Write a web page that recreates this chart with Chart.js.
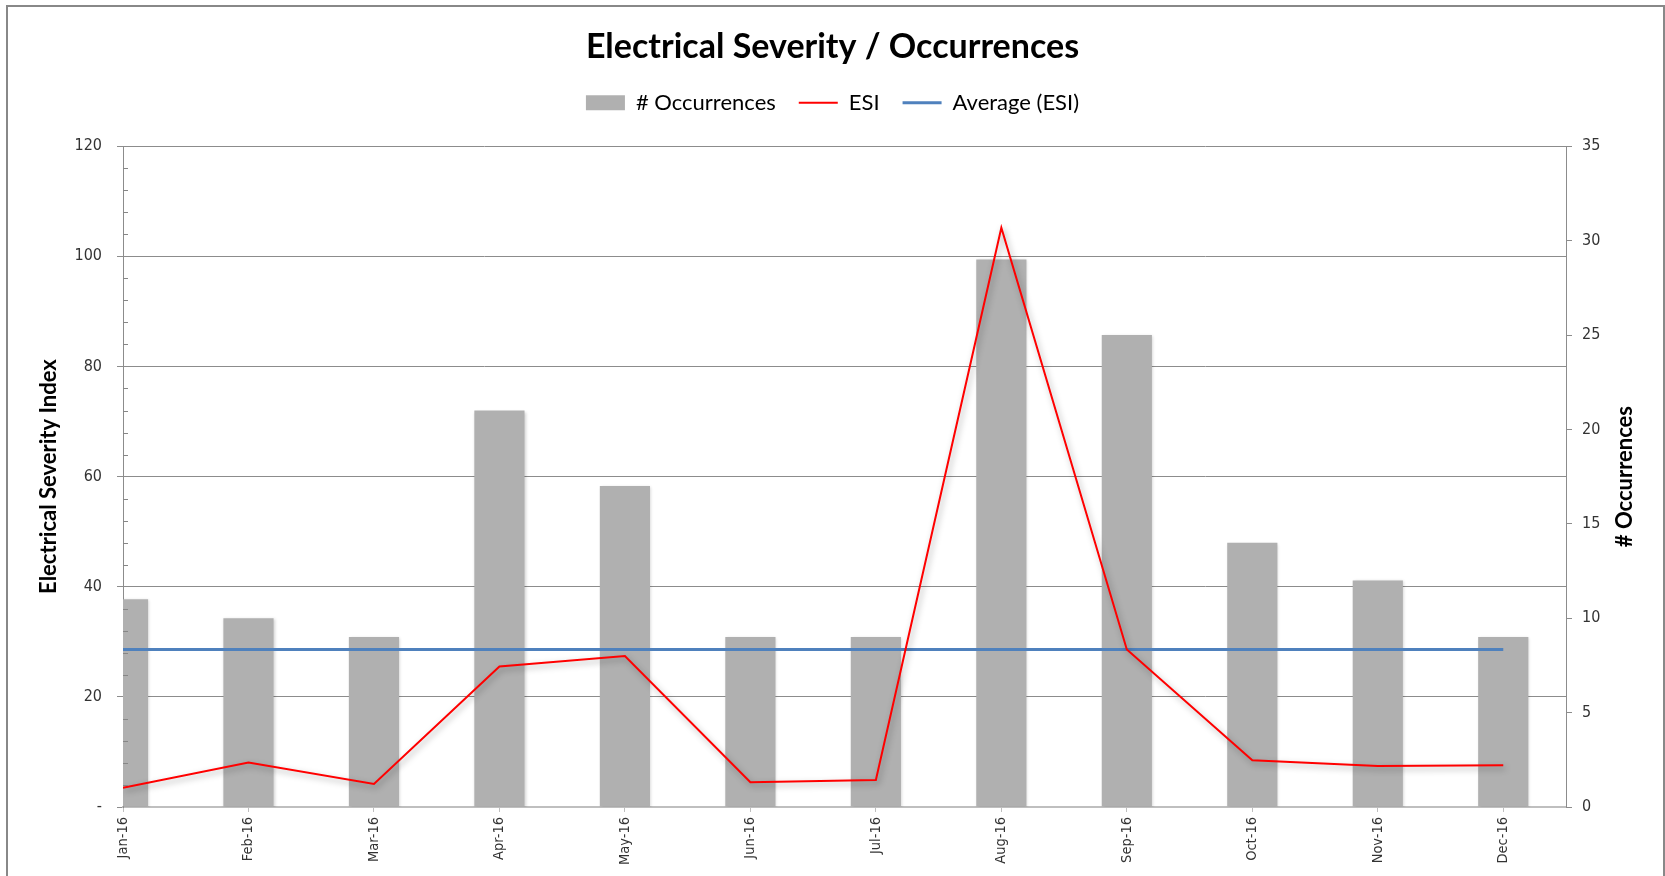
<!DOCTYPE html>
<html><head><meta charset="utf-8">
<script src="https://cdn.jsdelivr.net/npm/chart.js@4.4.0/dist/chart.umd.min.js"></script>
<style>
html,body{margin:0;padding:0;background:#fff;overflow:hidden;}
#wrap{position:relative;width:1665px;height:876px;}
#frame{position:absolute;left:6px;top:5px;width:1655px;height:900px;border:2px solid #888;pointer-events:none;}
</style></head><body>
<div id="wrap"><canvas id="c" width="1665" height="876"></canvas><div id="frame"></div></div>
<script>
const months = ['Jan-16','Feb-16','Mar-16','Apr-16','May-16','Jun-16','Jul-16','Aug-16','Sep-16','Oct-16','Nov-16','Dec-16'];
const occurrences = [11, 10, 9, 21, 17, 9, 9, 29, 25, 14, 12, 9];
const esi = [3.5, 8.1, 4.2, 25.5, 27.4, 4.5, 4.9, 105.2, 28.6, 8.5, 7.45, 7.6];
const averageEsi = [28.6, 28.6, 28.6, 28.6, 28.6, 28.6, 28.6, 28.6, 28.6, 28.6, 28.6, 28.6];
const esiTicks = [0, 20, 40, 60, 80, 100, 120];
const occTicks = [0, 5, 10, 15, 20, 25, 30, 35];

const toPoints = arr => arr.map((v, i) => ({x: i, y: v}));

const shadowPlugin = {
  id: 'shadows',
  beforeDatasetDraw(chart, args) {
    const ctx = chart.ctx;
    ctx.save();
    if (args.index === 1) {
      ctx.shadowColor = 'rgba(0,0,0,0.35)';
      ctx.shadowBlur = 6; ctx.shadowOffsetX = 2; ctx.shadowOffsetY = 3;
    } else if (args.index === 0) {
      ctx.shadowColor = 'rgba(0,0,0,0.18)';
      ctx.shadowBlur = 3; ctx.shadowOffsetX = 1; ctx.shadowOffsetY = 1;
    }
  },
  afterDatasetDraw(chart) { chart.ctx.restore(); }
};

const legendSpace = {
  id: 'legendSpace',
  afterInit(chart) {
    const lg = chart.legend;
    if (!lg) return;
    const orig = lg.fit;
    lg.fit = function () { orig.call(this); this.height += 22.4; };
  }
};

const extrasPlugin = {
  id: 'extras',
  afterDraw(chart) {
    const ctx = chart.ctx;
    const y = chart.scales.y;
    const area = chart.chartArea;
    ctx.save();
    ctx.strokeStyle = '#868686';
    ctx.lineWidth = 1;
    for (let v = 4; v < 120; v += 4) {
      if (v % 20 === 0) continue;
      const py = Math.round(y.getPixelForValue(v)) + 0.5;
      ctx.beginPath(); ctx.moveTo(area.left, py); ctx.lineTo(area.left + 5, py); ctx.stroke();
    }
    ctx.fillStyle = '#000';
    ctx.font = 'bold 22px Lato';
    ctx.textAlign = 'center';
    ctx.textBaseline = 'middle';
    ctx.translate(1625, (area.top + area.bottom) / 2);
    ctx.rotate(-Math.PI / 2);
    ctx.fillText('# Occurrences', 0, 0);
    ctx.restore();
  }
};

new Chart(document.getElementById('c'), {
  data: {
    datasets: [
      {type: 'bar', label: '# Occurrences', data: toPoints(occurrences), yAxisID: 'y1', xAxisID: 'x',
       backgroundColor: '#b0b0b0', borderWidth: 0, categoryPercentage: 1, barPercentage: 0.4, order: 3},
      {type: 'line', label: 'ESI', data: toPoints(esi), yAxisID: 'y', xAxisID: 'x',
       borderColor: '#ff0000', backgroundColor: '#ff0000', borderWidth: 2, pointRadius: 0, tension: 0, order: 1},
      {type: 'line', label: 'Average (ESI)', data: toPoints(averageEsi), yAxisID: 'y', xAxisID: 'x',
       borderColor: '#4f81bd', backgroundColor: '#4f81bd', borderWidth: 3, pointRadius: 0, tension: 0, order: 2}
    ]
  },
  options: {
    responsive: false,
    animation: false,
    layout: {padding: {top: 0, left: 0, right: 0, bottom: 0}},
    plugins: {
      title: {display: true, text: 'Electrical Severity / Occurrences', color: '#000',
        font: {family: 'Lato', size: 34, weight: 'bold'}, padding: {top: 27, bottom: 1}},
      legend: {
        display: true,
        labels: {
          color: '#000', font: {family: 'Lato', size: 22}, usePointStyle: true,
          pointStyleWidth: 39, boxHeight: 15, padding: 23,
          sort: (a, b) => a.datasetIndex - b.datasetIndex,
          generateLabels(chart) {
            const items = Chart.defaults.plugins.legend.labels.generateLabels(chart);
            items.forEach(it => {
              if (it.datasetIndex === 0) { it.pointStyle = 'rect'; it.lineWidth = 0; it.strokeStyle = 'rgba(0,0,0,0)'; }
              else { it.pointStyle = 'line'; it.lineWidth = it.datasetIndex === 2 ? 3 : 2; }
            });
            return items;
          }
        }
      },
      tooltip: {enabled: false}
    },
    scales: {
      x: {
        type: 'linear', position: 'bottom', min: 0, max: 11.5, offset: false,
        afterBuildTicks: s => { s.ticks = months.map((m, i) => ({value: i})); },
        afterFit: s => { s.height = 69; },
        ticks: {autoSkip: false, minRotation: 90, maxRotation: 90, padding: 5, color: '#333',
          font: {family: 'DejaVu Sans Condensed', size: 14.5},
          callback: v => months[Math.round(v)]},
        grid: {offset: false, drawOnChartArea: false, drawTicks: true, tickLength: 5, color: '#bfbfbf'},
        border: {display: true, color: '#bfbfbf', width: 2}
      },
      y: {
        type: 'linear', position: 'left', min: 0, max: 120,
        afterBuildTicks: s => { s.ticks = esiTicks.map(v => ({value: v})); },
        afterFit: s => { s.width = 123; },
        ticks: {padding: 15, color: '#333', font: {family: 'DejaVu Sans Condensed', size: 16},
          callback: v => v === 0 ? '-' : String(v)},
        grid: {color: '#8c8c8c', lineWidth: 1, tickLength: 6, tickColor: '#8c8c8c'},
        border: {display: true, color: '#8c8c8c', width: 1},
        title: {display: true, text: 'Electrical Severity Index', color: '#000',
          font: {family: 'Lato', size: 22, weight: 'bold'}, padding: {top: 36, bottom: 0}}
      },
      y1: {
        type: 'linear', position: 'right', min: 0, max: 35,
        afterBuildTicks: s => { s.ticks = occTicks.map(v => ({value: v})); },
        afterFit: s => { s.width = 99; },
        ticks: {padding: 10, color: '#333', font: {family: 'DejaVu Sans Condensed', size: 16}},
        grid: {drawOnChartArea: false, tickLength: 6, color: '#8c8c8c'},
        border: {display: true, color: '#8c8c8c', width: 1}
      }
    }
  },
  plugins: [shadowPlugin, legendSpace, extrasPlugin]
});
</script>
</body></html>
